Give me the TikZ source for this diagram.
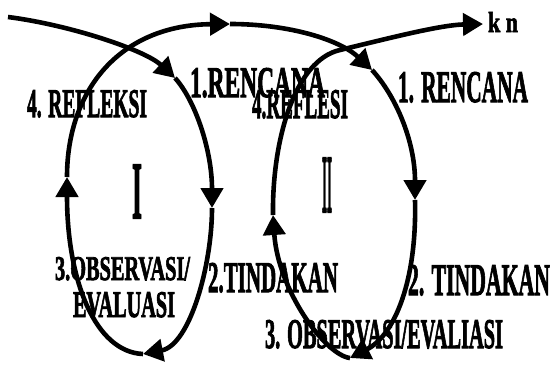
\documentclass[tikz,border=0pt]{standalone}
\usepackage{fontspec}
\setmainfont{Liberation Serif}[BoldFeatures={FakeBold=2.5}]
\usepackage{graphicx}
\usetikzlibrary{arrows.meta}
\newcommand\fitlbl[3]{\resizebox{#1pt}{#2pt}{\bfseries #3}}
\tikzset{
  flow/.style={line width=4.6pt, -{Triangle[length=20pt,width=22pt]}},
  lbl/.style={anchor=base west, inner sep=0pt, outer sep=0pt}
}
\begin{document}
\begin{tikzpicture}[x=1pt, y=-1pt]
\useasboundingbox (0,0) rectangle (553,364);
% path coordinates
\coordinate (s0) at (8,17);
\coordinate (a1) at (175,78);
\coordinate (a2) at (212,208);
\coordinate (a3) at (143,354);
\coordinate (a4) at (67,177);
\coordinate (a5) at (230,24);
\coordinate (a6) at (372,70);
\coordinate (a7) at (415,200);
\coordinate (a8) at (350,358);
\coordinate (a9) at (273,215);
\coordinate (top2) at (340,50);
\coordinate (a10) at (483,24);
% cycle I
\draw[flow] (s0) .. controls (70,25) and (145,50) .. (a1);
\draw[flow] (a1) .. controls (195,100) and (212,150) .. (a2);
\draw[flow] (a2) .. controls (212,265) and (190,345) .. (a3);
\draw[flow] (a3) .. controls (95,352) and (67,280) .. (a4);
\draw[flow] (a4) .. controls (67,90) and (120,25) .. (a5);
% cycle II
\draw[flow] (a5) .. controls (290,24) and (340,40) .. (a6);
\draw[flow] (a6) .. controls (395,95) and (415,140) .. (a7);
\draw[flow] (a7) .. controls (417,280) and (395,335) .. (a8);
\draw[flow] (a8) .. controls (325,355) and (278,290) .. (a9);
\draw[flow] (a9) .. controls (272,140) and (295,60) .. (top2)
  .. controls (390,38) and (440,25) .. (a10);
% labels
\node[lbl] (t4a) at (27,117) {\fitlbl{120}{27}{4. REFLEKSI}};
\node[lbl] (t1a) at (190,97) {\fitlbl{135}{29}{1.RENCANA}};
\node[lbl] (t4b) at (252,118) {\fitlbl{96}{28}{4.REFLESI}};
\node[lbl] (t1b) at (398,102) {\fitlbl{130}{30}{1. RENCANA}};
\node[lbl] (c1) at (132,218) {\fitlbl{10}{53}{I}};
\node[lbl] (c2) at (322,212) {\fitlbl{10}{54}{II}};
\node[lbl] (t3a) at (55,280) {\fitlbl{135}{23}{3.OBSERVASI/}};
\node[lbl] (t3a2) at (73,317) {\fitlbl{102}{25}{EVALUASI}};
\node[lbl] (t2a) at (208,292) {\fitlbl{130}{29}{2.TINDAKAN}};
\node[lbl] (t2b) at (408,295) {\fitlbl{142}{30}{2. TINDAKAN}};
\node[lbl] (t3b) at (265,348) {\fitlbl{238}{28}{3. OBSERVASI/EVALIASI}};
\node[lbl] (kn) at (488,32) {\fitlbl{30}{20}{k n}};
\end{tikzpicture}
\end{document}
